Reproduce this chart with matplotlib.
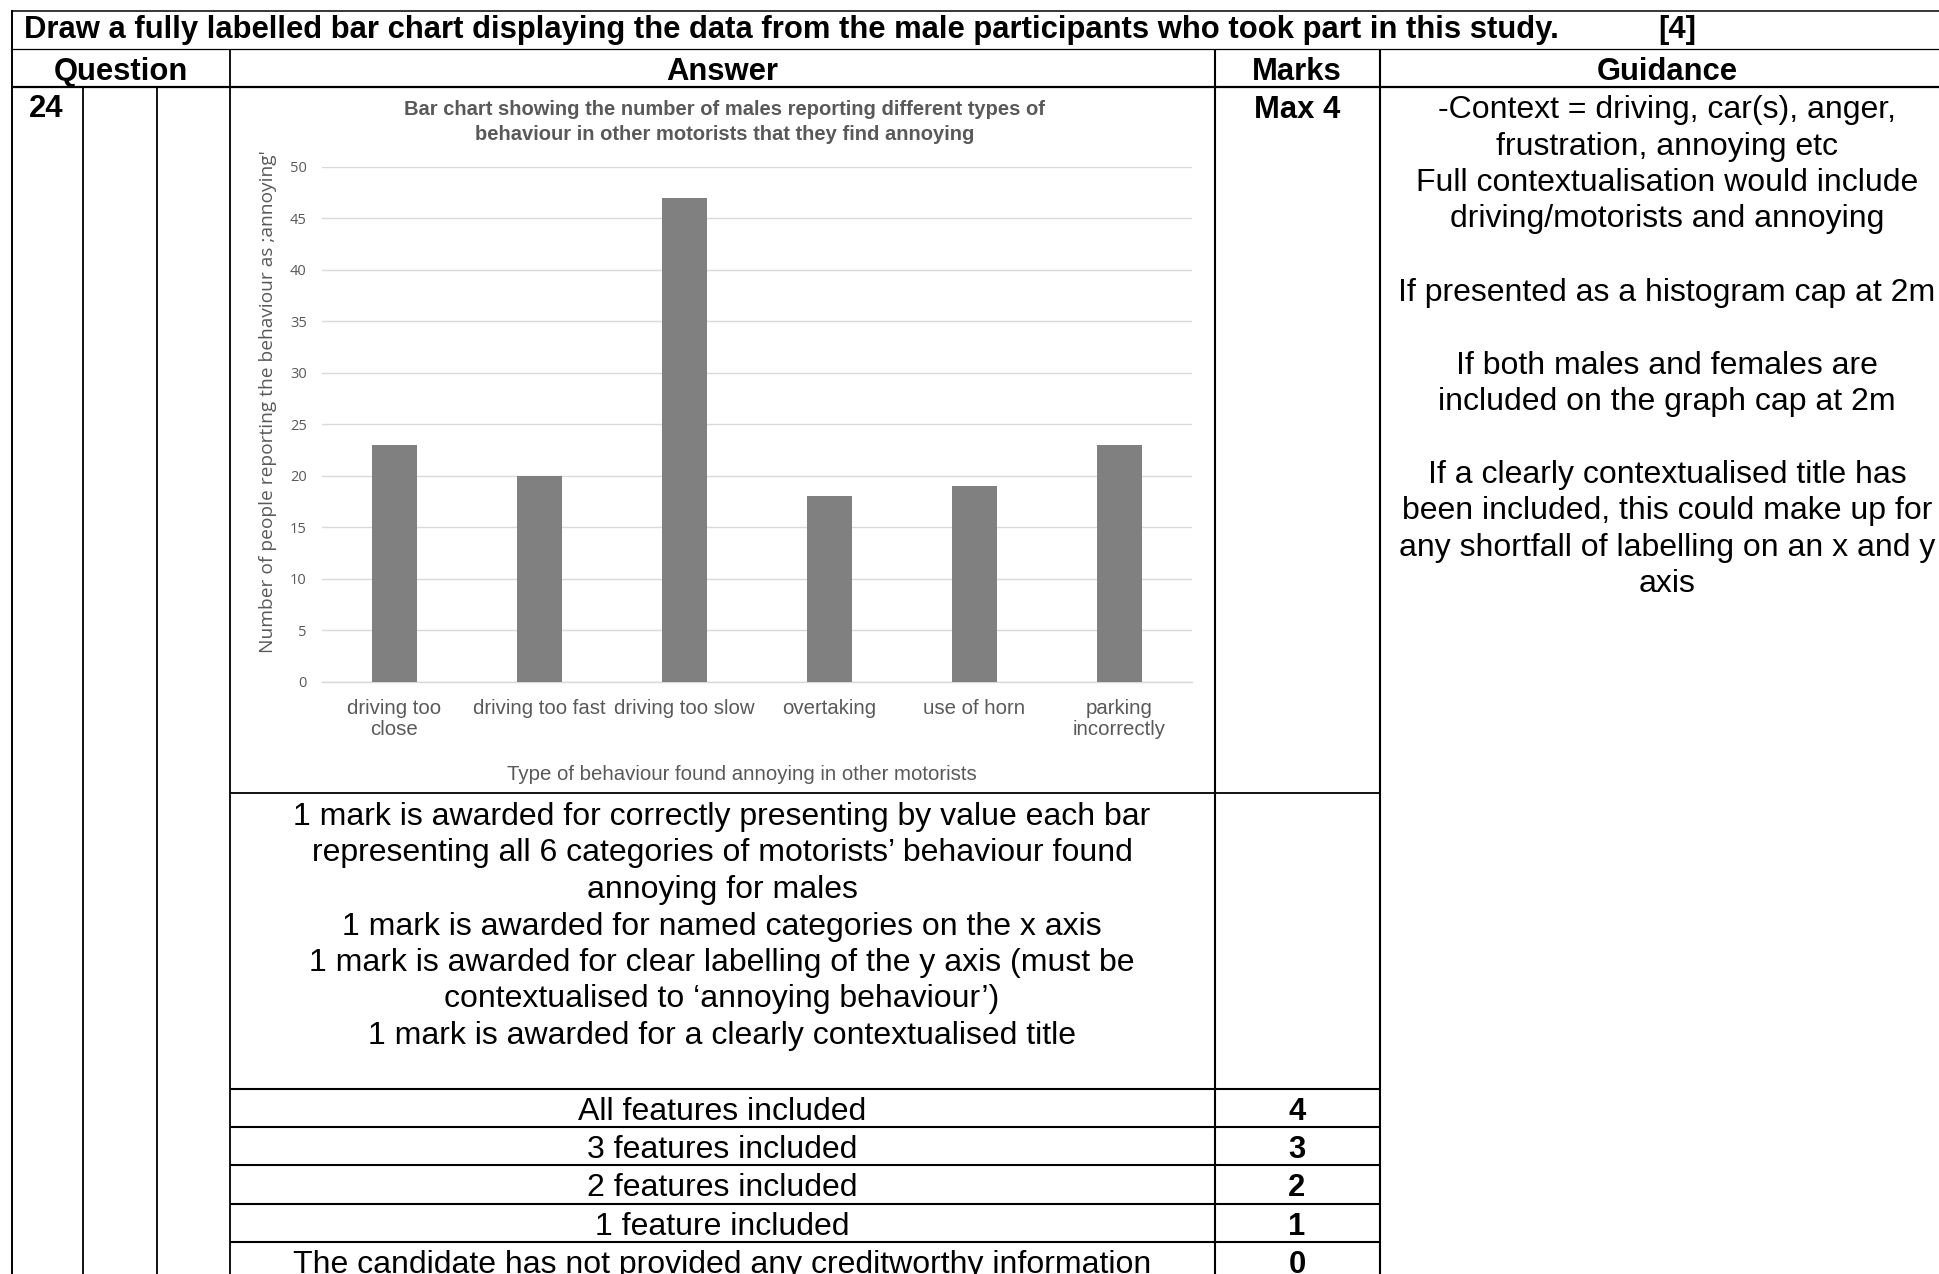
import matplotlib
matplotlib.use("Agg")
import matplotlib.pyplot as plt
import numpy as np

# data from the male participants
categories = ['driving too\nclose', 'driving too fast', 'driving too slow',
              'overtaking', 'use of horn', 'parking\nincorrectly']
male_counts = [23, 20, 47, 18, 19, 23]
y_ticks = [0, 5, 10, 15, 20, 25, 30, 35, 40, 45, 50]

answer_lines = [
    '1 mark is awarded for correctly presenting by value each bar',
    'representing all 6 categories of motorists\u2019 behaviour found',
    'annoying for males',
    '1 mark is awarded for named categories on the x axis',
    '1 mark is awarded for clear labelling of the y axis (must be',
    'contextualised to \u2018annoying behaviour\u2019)',
    '1 mark is awarded for a clearly contextualised title',
]
feature_rows = ['All features included', '3 features included', '2 features included',
                '1 feature included', 'The candidate has not provided any creditworthy information']
feature_marks = ['4', '3', '2', '1', '0']
guidance_lines = [
    '-Context = driving, car(s), anger,',
    'frustration, annoying etc',
    'Full contextualisation would include',
    'driving/motorists and annoying',
    '',
    'If presented as a histogram cap at 2m',
    '',
    'If both males and females are',
    'included on the graph cap at 2m',
    '',
    'If a clearly contextualised title has',
    'been included, this could make up for',
    'any shortfall of labelling on an x and y',
    'axis',
]

W, H = 1940, 1274
fig = plt.figure(figsize=(W / 100, H / 100), dpi=100)
fig.patch.set_facecolor('white')

# overlay in pixel coords for the mark-scheme table
bg = fig.add_axes([0, 0, 1, 1])
bg.set_xlim(0, W)
bg.set_ylim(H, 0)
bg.axis('off')

TF = 'Liberation Sans'
FB = 22.3   # bold table text
FS = 23     # regular table text


def hline(y, x0, x1, lw=1.3):
    bg.plot([x0, x1], [y, y], color='black', lw=lw, solid_capstyle='butt')


def vline(x, y0, y1, lw=1.3):
    bg.plot([x, x], [y0, y1], color='black', lw=lw, solid_capstyle='butt')


hline(11, 11, W, 1.1)
hline(49, 11, W, 0.9)
hline(87, 11, W, 1.6)
hline(793, 230, 1380, 1.3)
for yy in [1089, 1127, 1165, 1204, 1242]:
    hline(yy, 230, 1380, 1.5)
vline(12, 10, H, 1.4)
vline(83, 87, H, 1.3)
vline(157, 87, H, 1.3)
vline(230, 49, H, 1.3)
vline(1215, 49, H, 1.5)
vline(1380, 49, H, 1.5)

bg.text(24, 38, 'Draw a fully labelled bar chart displaying the data from the male '
        'participants who took part in this study.', family=TF, fontsize=FB,
        fontweight='bold', ha='left', va='baseline')
bg.text(1658, 38, '[4]', family=TF, fontsize=FB, fontweight='bold', ha='left', va='baseline')

for txt, xc in [('Question', 121), ('Answer', 722), ('Marks', 1297), ('Guidance', 1667)]:
    bg.text(xc, 80, txt, family=TF, fontsize=FB, fontweight='bold', ha='center', va='baseline')

bg.text(29, 117, '24', family=TF, fontsize=FB, fontweight='bold', ha='left', va='baseline')
bg.text(1297, 118, 'Max 4', family=TF, fontsize=FB, fontweight='bold', ha='center', va='baseline')

for i, line in enumerate(guidance_lines):
    bg.text(1667, 118 + i * 36.5, line, family=TF, fontsize=FS, ha='center', va='baseline')

for i, line in enumerate(answer_lines):
    bg.text(722, 825 + i * 36.5, line, family=TF, fontsize=FS, ha='center', va='baseline')

row_tops = [1089, 1127, 1165, 1204, 1242]
for top, txt, mk in zip(row_tops, feature_rows, feature_marks):
    bg.text(722, top + 31, txt, family=TF, fontsize=FS, ha='center', va='baseline')
    bg.text(1297, top + 31, mk, family=TF, fontsize=FB, fontweight='bold', ha='center', va='baseline')

# the Excel-style bar chart inside the answer cell
gray_txt = '#595959'
x0, x1, ytop, ybot = 322, 1192, 166.7, 682
ax = fig.add_axes([x0 / W, 1 - ybot / H, (x1 - x0) / W, (ybot - ytop) / H])
x = np.arange(len(categories))
ax.bar(x, male_counts, width=0.31, color='#808080', zorder=3)
ax.set_xlim(-0.5, len(categories) - 0.5)
ax.set_ylim(0, 50)
ax.set_yticks(y_ticks)
ax.set_xticks(x)
ax.set_xticklabels(categories, family=TF, fontsize=14.7, color=gray_txt, linespacing=1.15)
for lab in ax.get_yticklabels():
    lab.set_family('Open Sans')
    lab.set_fontsize(10.5)
    lab.set_color(gray_txt)
ax.tick_params(axis='both', length=0)
ax.tick_params(axis='x', pad=12)
ax.tick_params(axis='y', pad=11)
ax.grid(axis='y', color='#D9D9D9', lw=1.0, zorder=0)
ax.set_axisbelow(True)
for s in ['top', 'right', 'left']:
    ax.spines[s].set_visible(False)
ax.spines['bottom'].set_color('#D9D9D9')
ax.spines['bottom'].set_linewidth(1.0)
ax.patch.set_alpha(0)

bg.text(724.5, 115, 'Bar chart showing the number of males reporting different types of',
        family=TF, fontsize=14.5, fontweight='bold', color=gray_txt, ha='center', va='baseline')
bg.text(724.5, 139.5, 'behaviour in other motorists that they find annoying',
        family=TF, fontsize=14.5, fontweight='bold', color=gray_txt, ha='center', va='baseline')
bg.text(741.5, 780, 'Type of behaviour found annoying in other motorists',
        family=TF, fontsize=14.7, color=gray_txt, ha='center', va='baseline')
bg.text(268, 402, "Number of people reporting the behaviour as ;annoying'",
        family='Open Sans', fontsize=13.8, color=gray_txt, rotation=90, ha='center', va='center')

fig.savefig('out.png', dpi=100)
